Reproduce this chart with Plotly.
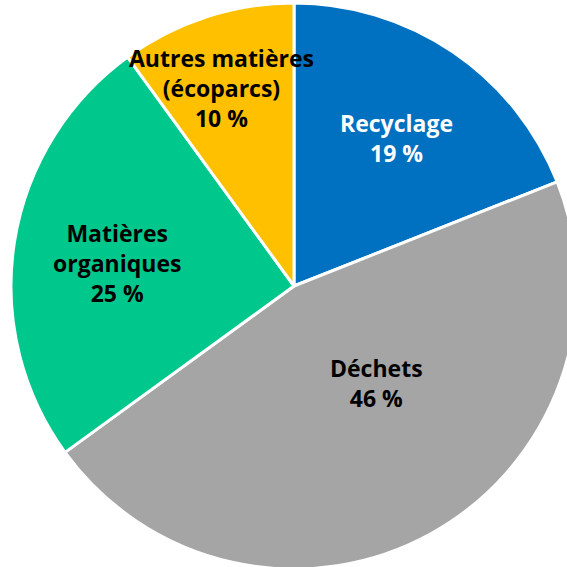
import plotly.graph_objects as go
import math

labels = ["Recyclage", "Déchets", "Matières organiques", "Autres matières (écoparcs)"]
values = [19, 46, 25, 10]
display_text = ["Recyclage<br>19 %", "Déchets<br>46 %", "Matières<br>organiques<br>25 %",
                "Autres matières<br>(écoparcs)<br>10 %"]
colors = ["#0070C0", "#A5A5A5", "#00C78C", "#FFC000"]
text_colors = ["white", "black", "black", "black"]
# label placement: radial fraction and angular shift from slice mid-angle
label_r = [0.637, 0.451, 0.631, 0.746]
label_angle_shift = [0.6, -11.75, -1.6, -2.2]

W, H = 577, 572          # slightly larger than the 567 window: the pie is clipped on the right
CX, CY, R = 294, 286, 283

fig = go.Figure(go.Pie(
    labels=labels, values=values, sort=False, direction="clockwise", rotation=0,
    marker=dict(colors=colors, line=dict(color="white", width=3)),
    textinfo="none", hoverinfo="label+percent",
    domain=dict(x=[(CX - R) / W, (CX + R) / W], y=[1 - (CY + R) / H, 1 - (CY - R) / H]),
))

total = sum(values)
cum = 0
for i, v in enumerate(values):
    mid = (cum + v / 2) / total * 360 + label_angle_shift[i]
    cum += v
    a = math.radians(mid)
    px = CX + label_r[i] * R * math.sin(a)
    py = CY - label_r[i] * R * math.cos(a)
    fig.add_annotation(x=px / W, y=1 - py / H, xref="paper", yref="paper",
                       xanchor="center", yanchor="middle",
                       text="<b>" + display_text[i] + "</b>", showarrow=False,
                       font=dict(family="Open Sans", size=23, color=text_colors[i]))

fig.update_layout(width=W, height=H, margin=dict(l=0, r=0, t=0, b=0),
                  showlegend=False, paper_bgcolor="white")
fig.write_html("out.html", config={"displayModeBar": False},
               post_script="document.body.style.margin='0';document.body.style.overflow='hidden';")
